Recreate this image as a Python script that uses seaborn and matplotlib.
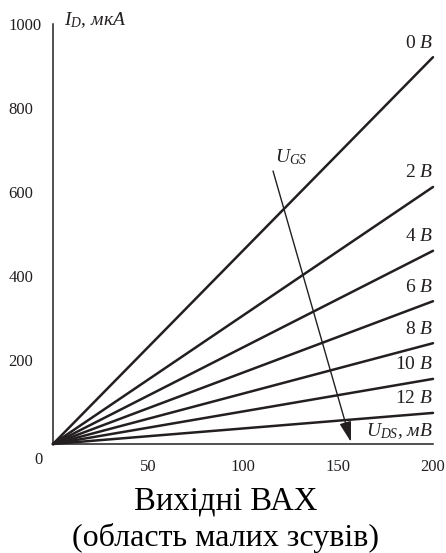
import numpy as np
import pandas as pd
import matplotlib
matplotlib.use("Agg")
import matplotlib.pyplot as plt
import seaborn as sns

# --- data ---
ugs_values = [0, 2, 4, 6, 8, 10, 12]          # gate voltage, V
id_at_200 = [921, 612, 460, 340, 240, 155, 74]  # drain current at U_DS = 200 mV, uA
uds_points = [0, 200]                          # mV
x_ticks = [0, 50, 100, 150, 200]
x_tick_labels = ["", "50", "100", "150", "200"]
y_ticks = [0, 200, 400, 600, 800, 1000]
y_tick_labels = ["", "200", "400", "600", "800", "1000"]
arrow_start = (115.8, 650)
arrow_end = (156.8, 5)

rows = []
for u, i_end in zip(ugs_values, id_at_200):
    for x in uds_points:
        rows.append({"UDS": x, "ID": i_end * x / uds_points[-1], "UGS": u})
df = pd.DataFrame(rows)

sns.set_theme(style="white")
plt.rcParams["font.family"] = ["Liberation Serif", "DejaVu Serif"]
plt.rcParams["mathtext.fontset"] = "custom"
plt.rcParams["mathtext.rm"] = "Liberation Serif"
plt.rcParams["mathtext.it"] = "Liberation Serif:italic"

ink = "#231f20"
fig = plt.figure(figsize=(4.46, 5.53), dpi=100)
ax = fig.add_axes([53 / 446, (553 - 444) / 553, 380 / 446, 420 / 553])

sns.lineplot(data=df, x="UDS", y="ID", hue="UGS", units="UGS", estimator=None,
             palette=[ink] * len(ugs_values), legend=False, linewidth=1.8,
             ax=ax, clip_on=False)

ax.set_xlim(0, 200)
ax.set_ylim(0, 1000)
ax.set_xlabel("")
ax.set_ylabel("")
for s in ["top", "right"]:
    ax.spines[s].set_visible(False)
for s in ["left", "bottom"]:
    ax.spines[s].set_color(ink)
    ax.spines[s].set_linewidth(1.1)

ax.set_xticks(x_ticks)
ax.set_xticklabels(x_tick_labels)
ax.set_yticks(y_ticks)
ax.set_yticklabels(y_tick_labels)
ax.set_yticks([100, 300, 500, 700, 900], minor=True)
ax.tick_params(axis="both", which="major", direction="out", length=5, width=1.1,
               color=ink, labelcolor=ink, labelsize=12)
ax.tick_params(axis="y", which="minor", direction="out", length=3, width=1.1, color=ink)
ax.tick_params(axis="x", which="major", pad=6)
ax.tick_params(axis="y", which="major", pad=27)
for lab in ax.get_yticklabels():
    lab.set_horizontalalignment("left")

ax.text(-7.4, -20, "0", ha="center", va="top", fontsize=12, color=ink, clip_on=False,
        transform=ax.transData)

for u, i_end in zip(ugs_values, id_at_200):
    ax.annotate(f"{u} $\\mathit{{В}}$", xy=(200, i_end), xytext=(0, 4),
                textcoords="offset points", ha="right", va="bottom",
                fontsize=14, color=ink, annotation_clip=False)

ax.annotate("", xy=arrow_end, xytext=arrow_start,
            arrowprops=dict(arrowstyle="-|>,head_length=0.82,head_width=0.24",
                            mutation_scale=15, lw=1.0, color=ink,
                            shrinkA=0, shrinkB=0))

ax.text(117, 660, r"$U_{GS}$", ha="left", va="bottom", fontsize=14, color=ink)
ax.text(200, 8, r"$U_{DS}$, $мВ$", ha="right", va="bottom", fontsize=14, color=ink)
ax.text(6, 985, r"$I_{D}$, $мкА$", ha="left", va="bottom", fontsize=14, color=ink,
        clip_on=False)

fig.text(0.505, (553 - 510) / 553, "Вихідні ВАХ", ha="center", va="baseline",
         fontsize=23.5, color="black")
fig.text(0.505, (553 - 546) / 553, "(область малих зсувів)", ha="center",
         va="baseline", fontsize=23, color="black")

fig.savefig("out.png", dpi=100)
